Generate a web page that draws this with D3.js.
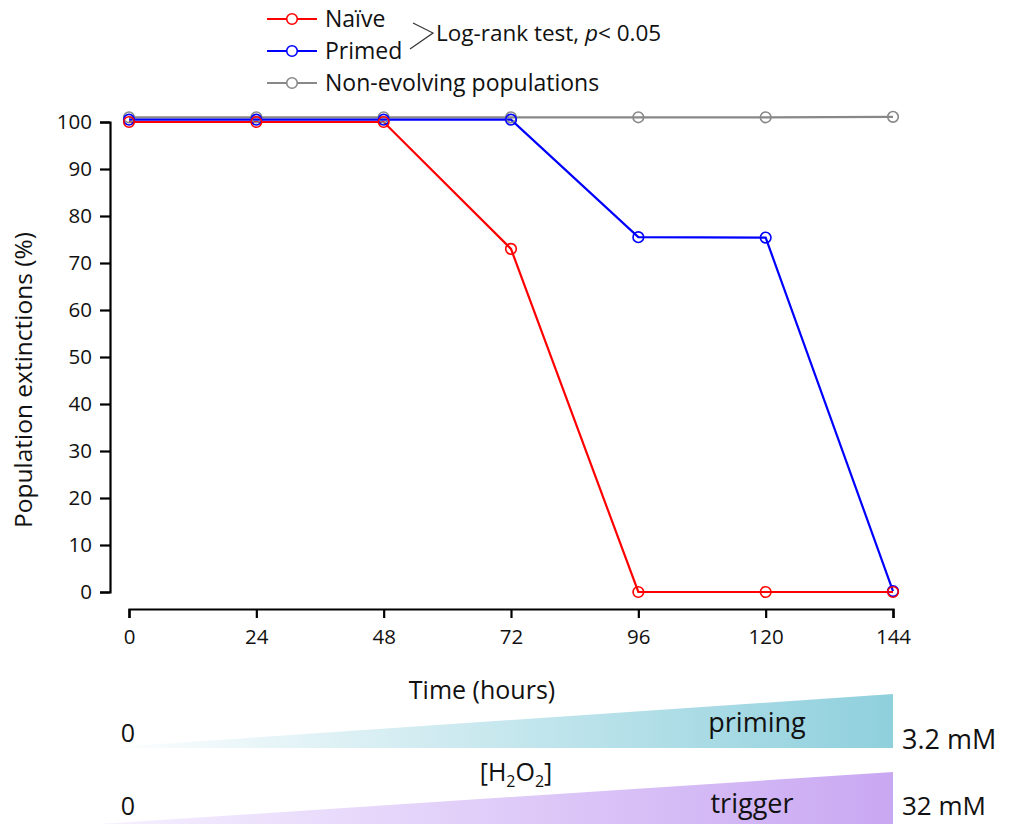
<!DOCTYPE html>
<html><head><meta charset="utf-8">
<script src="https://cdn.jsdelivr.net/npm/d3@7"></script>
<style>body{margin:0;background:#fff}svg{display:block}text{font-family:"Open Sans",sans-serif;fill:#111}</style>
</head><body><svg id="c" width="1016" height="824"></svg>
<script>
const hours = [0, 24, 48, 72, 96, 120, 144];
const naive = [100, 100, 100, 73, 0, 0, 0];
const primed = [100.5, 100.5, 100.5, 100.5, 75.5, 75.4, 0.2];
const nonEvolving = [101, 101, 101, 101, 101, 101, 101.1];
const yTicks = [0, 10, 20, 30, 40, 50, 60, 70, 80, 90, 100];
const seriesNames = ["Naïve", "Primed", "Non-evolving populations"];
const seriesColors = ["#ff0000", "#0000ff", "#888888"];

const svg = d3.select("#c");
const x = d3.scaleLinear().domain([0, 144]).range([129, 893]);
const y = d3.scaleLinear().domain([0, 100]).range([592, 122]);

// axes
const yAxis = svg.append("g").attr("transform", "translate(110,0)")
  .call(d3.axisLeft(y).tickValues(yTicks).tickSize(10).tickSizeOuter(10).tickPadding(8));
const xAxis = svg.append("g").attr("transform", "translate(0,609)")
  .call(d3.axisBottom(x).tickValues(hours).tickSize(9).tickSizeOuter(9).tickPadding(11));
[yAxis, xAxis].forEach(a => {
  a.selectAll("path,line").attr("stroke", "#000").attr("stroke-width", 2.2);
  a.selectAll("text").attr("font-size", 20.5).attr("fill", "#111").attr("font-family", "'Open Sans',sans-serif");
});

svg.append("text").attr("transform", "translate(32,380) rotate(-90)")
  .attr("text-anchor", "middle").attr("font-size", 24.5).text("Population extinctions (%)");
svg.append("text").attr("x", 482).attr("y", 690).attr("dy", "0.35em").attr("text-anchor", "middle")
  .attr("font-size", 25).text("Time (hours)");

const data = [naive, primed, nonEvolving];
const line = d3.line().x((d, i) => x(hours[i])).y(d => y(d));
[2, 1, 0].forEach(k => {
  svg.append("path").datum(data[k]).attr("d", line).attr("fill", "none")
    .attr("stroke", seriesColors[k]).attr("stroke-width", 2.2);
});
[2, 1, 0].forEach(k => {
  svg.append("g").selectAll("circle").data(data[k]).join("circle")
    .attr("cx", (d, i) => x(hours[i])).attr("cy", d => y(d)).attr("r", 5.3)
    .attr("fill", "none").attr("stroke", seriesColors[k]).attr("stroke-width", 1.6);
});

// legend
const legY = [19, 51, 83];
seriesNames.forEach((n, k) => {
  const g = svg.append("g");
  g.append("line").attr("x1", 267).attr("x2", 317).attr("y1", legY[k]).attr("y2", legY[k])
    .attr("stroke", seriesColors[k]).attr("stroke-width", 2.2);
  g.append("circle").attr("cx", 292).attr("cy", legY[k]).attr("r", 5.3)
    .attr("fill", "#fff").attr("stroke", seriesColors[k]).attr("stroke-width", 1.6);
  g.append("text").attr("x", 325).attr("y", legY[k]).attr("dy", "0.35em")
    .attr("font-size", 23).text(n);
});
svg.append("path").attr("d", "M413,23 L433,33 L410,49").attr("fill", "none")
  .attr("stroke", "#333").attr("stroke-width", 1.2);
const lr = svg.append("text").attr("x", 436).attr("y", 33).attr("dy", "0.35em").attr("font-size", 22.5);
lr.append("tspan").text("Log-rank test, ");
lr.append("tspan").attr("font-style", "italic").text("p");
lr.append("tspan").text("< 0.05");

// concentration wedges
const defs = svg.append("defs");
const g1 = defs.append("linearGradient").attr("id", "gp");
g1.append("stop").attr("offset", "0%").attr("stop-color", "#ffffff");
g1.append("stop").attr("offset", "100%").attr("stop-color", "#8fd0dd");
const g2 = defs.append("linearGradient").attr("id", "gt");
g2.append("stop").attr("offset", "0%").attr("stop-color", "#f6f0ff");
g2.append("stop").attr("offset", "100%").attr("stop-color", "#c9a8f2");
svg.append("path").attr("d", "M100,748 L893,694 L893,748 Z").attr("fill", "url(#gp)");
svg.append("path").attr("d", "M100,824 L893,772 L893,824 Z").attr("fill", "url(#gt)");

const lbl = (tx, ty, s, size, anchor) => svg.append("text").attr("x", tx).attr("y", ty)
  .attr("dy", "0.35em").attr("font-size", size).attr("text-anchor", anchor || "start").text(s);
lbl(128, 733, "0", 25, "middle");
lbl(128, 806, "0", 25, "middle");
lbl(757, 723, "priming", 27, "middle");
lbl(752, 804, "trigger", 27, "middle");
lbl(902, 740, "3.2 mM", 27);
lbl(902, 806, "32 mM", 26);
const h = svg.append("text").attr("x", 516).attr("y", 772).attr("dy", "0.35em")
  .attr("font-size", 25).attr("text-anchor", "middle");
h.append("tspan").text("[H");
h.append("tspan").attr("font-size", 16).attr("dy", "6").text("2");
h.append("tspan").attr("dy", "-6").text("O");
h.append("tspan").attr("font-size", 16).attr("dy", "6").text("2");
h.append("tspan").attr("dy", "-6").text("]");
</script></body></html>
